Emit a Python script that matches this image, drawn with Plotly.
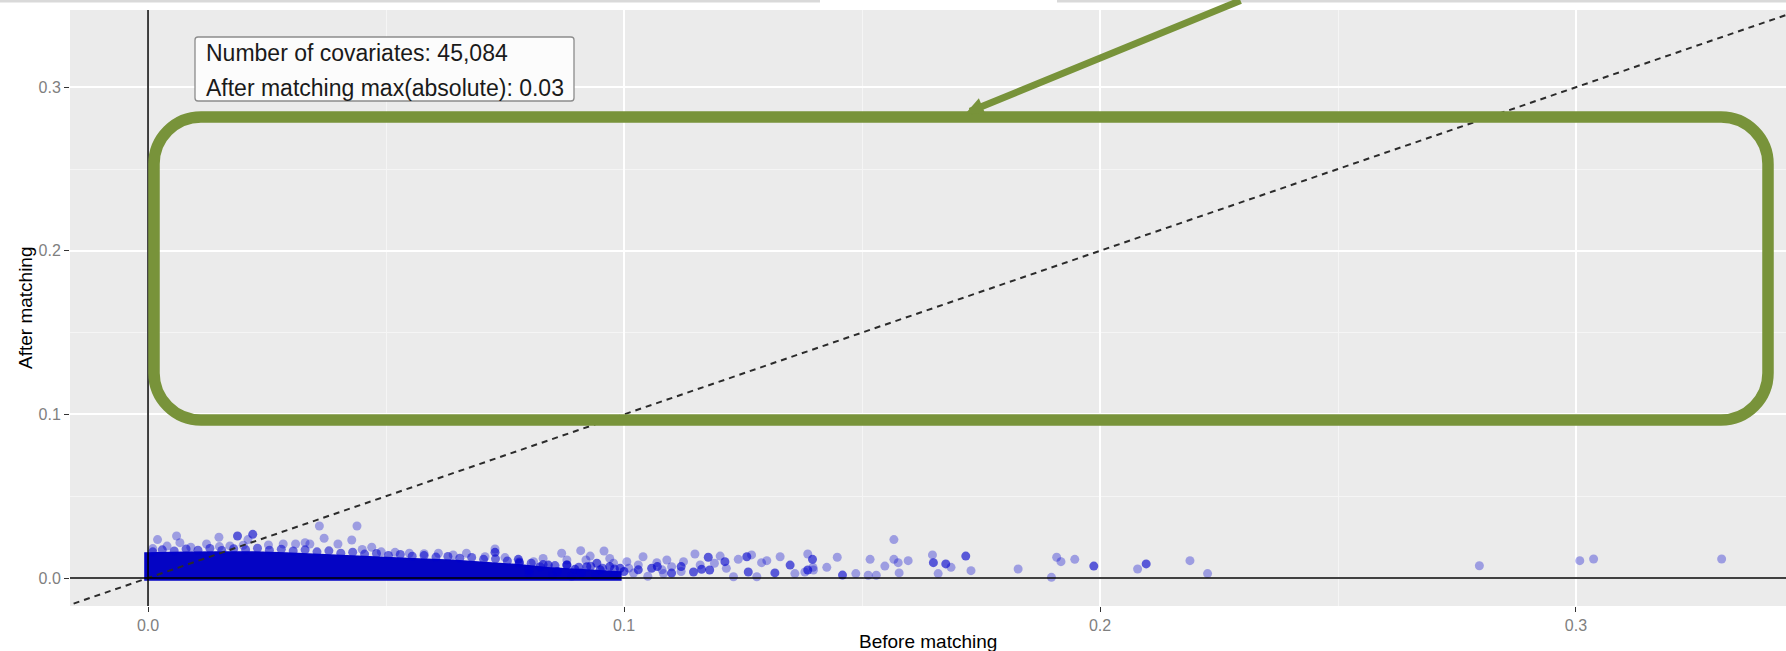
import plotly.graph_objects as go

# ---------------- data ----------------
# dense core of the covariate cloud: upper / lower envelope
core_x = [-0.0008, 0.0005, 0.008, 0.015, 0.022, 0.029, 0.036, 0.043, 0.050, 0.057,
          0.064, 0.071, 0.078, 0.084, 0.090, 0.096, 0.0995]
core_top = [0.0158, 0.0158, 0.0162, 0.0164, 0.0164, 0.0158, 0.0148, 0.0138, 0.0128, 0.0121,
            0.0113, 0.0100, 0.0085, 0.0068, 0.0058, 0.0050, 0.0042]
core_bottom = [-0.0016, -0.0016, -0.0016, -0.0016, -0.0016, -0.0016, -0.0016, -0.0016, -0.0016, -0.0016,
               -0.0016, -0.0016, -0.0016, -0.0016, -0.0016, -0.0016, -0.0016]

# points forming the ragged upper edge of the core
fringe_x = [0.001, 0.003, 0.0055, 0.008, 0.0105, 0.013, 0.0155, 0.018, 0.0205, 0.023,
            0.0255, 0.028, 0.0305, 0.033, 0.0355, 0.038, 0.0405, 0.043, 0.0455, 0.048,
            0.0505, 0.053, 0.0555, 0.058, 0.0605, 0.063, 0.0655, 0.068, 0.0705, 0.073,
            0.0755, 0.078, 0.0805, 0.083, 0.0855, 0.088, 0.0905, 0.093, 0.0955, 0.098]
fringe_y = [0.0160, 0.0172, 0.0165, 0.0178, 0.0170, 0.0181, 0.0168, 0.0179, 0.0173, 0.0182,
            0.0170, 0.0176, 0.0165, 0.0172, 0.0160, 0.0166, 0.0152, 0.0158, 0.0146, 0.0150,
            0.0138, 0.0144, 0.0133, 0.0137, 0.0128, 0.0132, 0.0121, 0.0126, 0.0114, 0.0117,
            0.0104, 0.0098, 0.0090, 0.0082, 0.0076, 0.0080, 0.0066, 0.0072, 0.0060, 0.0055]

# single (light) points
light_x = [0.001, 0.004, 0.0067, 0.009, 0.0123, 0.015, 0.0172, 0.020, 0.021, 0.0253,
           0.0284, 0.031, 0.033, 0.034, 0.037, 0.0399, 0.0428, 0.045, 0.047, 0.049,
           0.0519, 0.0549, 0.058, 0.061, 0.0641, 0.0669, 0.0708, 0.0729, 0.075, 0.081,
           0.0020, 0.0060, 0.0149, 0.036, 0.0439,
           0.0869, 0.088, 0.0909, 0.0929, 0.0958, 0.0978, 0.1006, 0.104, 0.1069, 0.1083,
           0.110, 0.1125, 0.1149, 0.1202, 0.1215, 0.123, 0.124, 0.1268, 0.1279, 0.1289,
           0.130, 0.1328, 0.1359, 0.138, 0.1386, 0.1398, 0.1397, 0.1426, 0.1448, 0.1487,
           0.1517, 0.1513, 0.153, 0.1548, 0.1567, 0.1567, 0.1576, 0.1578, 0.1597, 0.1648,
           0.166, 0.1687, 0.1729, 0.1828, 0.1898, 0.1909, 0.1918, 0.1947, 0.2079, 0.2189,
           0.2226, 0.2797, 0.3008, 0.3037, 0.3306,
           0.080, 0.085, 0.089, 0.094, 0.098, 0.102, 0.105, 0.108, 0.112, 0.116,
           0.119, 0.083, 0.092, 0.097, 0.101, 0.103, 0.109]
light_y = [0.0180, 0.0195, 0.0216, 0.0188, 0.0208, 0.0192, 0.0196, 0.0200, 0.0235, 0.0202,
           0.0208, 0.0208, 0.0216, 0.0208, 0.0243, 0.0208, 0.0232, 0.0175, 0.0188, 0.0160,
           0.0157, 0.0151, 0.0148, 0.0151, 0.0141, 0.0151, 0.0130, 0.0177, 0.0125, 0.0100,
           0.0235, 0.0257, 0.0249, 0.0318, 0.0318,
           0.0151, 0.0110, 0.0167, 0.0134, 0.0165, 0.0090, 0.0100, 0.0130, 0.0094, 0.0027,
           0.0069, 0.0100, 0.0147, 0.0134, 0.0059, 0.0008, 0.0114, 0.0141, 0.0008, 0.0094,
           0.0106, 0.0130, 0.0027, 0.0037, 0.0147, 0.0049, 0.0065, 0.0065, 0.0127, 0.0027,
           0.0114, 0.0017, 0.0017, 0.0073, 0.0235, 0.0114, 0.0094, 0.0031, 0.0106, 0.0141,
           0.0027, 0.0065, 0.0045, 0.0055, 0.0004, 0.0127, 0.0100, 0.0114, 0.0055, 0.0106,
           0.0027, 0.0075, 0.0106, 0.0116, 0.0116,
           0.0030, 0.0020, 0.0010, 0.0020, 0.0015, 0.0030, 0.0010, 0.0050, 0.0040, 0.0080,
           0.0090, 0.0120, 0.0110, 0.0120, 0.0060, 0.0080, 0.0110]

# overlapping (dark) points
dark_x = [0.0188, 0.0220, 0.0729, 0.0778, 0.078, 0.0824, 0.0841, 0.0943, 0.0922, 0.0897,
          0.0992, 0.1058, 0.1146, 0.1163, 0.1177, 0.118, 0.1212, 0.1258, 0.1261, 0.1317,
          0.1349, 0.1396, 0.1386, 0.1459, 0.165, 0.1676, 0.1718, 0.1987, 0.2097,
          0.080, 0.086, 0.088, 0.091, 0.095, 0.097, 0.100, 0.103, 0.107, 0.110, 0.112]
dark_y = [0.0257, 0.0267, 0.0157, 0.0114, 0.0090, 0.0069, 0.0079, 0.0090, 0.0069, 0.0053,
          0.0059, 0.0059, 0.0037, 0.0053, 0.0127, 0.0049, 0.0100, 0.0130, 0.0037, 0.0031,
          0.0079, 0.0114, 0.0049, 0.0018, 0.0094, 0.0086, 0.0134, 0.0073, 0.0086,
          0.0050, 0.0040, 0.0080, 0.0030, 0.0050, 0.0070, 0.0040, 0.0050, 0.0070, 0.0030, 0.0070]

diag_x = [-0.02, 0.36]
diag_y = [-0.02, 0.36]

x_range = [-0.01639, 0.34412]
y_range = [-0.01711, 0.34719]
x_ticks = [0.0, 0.1, 0.2, 0.3]
x_tick_labels = ["0.0", "0.1", "0.2", "0.3"]
y_ticks = [0.0, 0.1, 0.2, 0.3]
y_tick_labels = ["0.0", "0.1", "0.2", "0.3"]

label_lines = ["Number of covariates: 45,084", "After matching max(absolute): 0.03"]
x_title = "Before matching"
y_title = "After matching"

# ---------------- layout geometry (pixels) ----------------
W, H = 1786, 651
ML, MR, MT, MB = 70, 0, 10, 45
PW, PH = W - ML - MR, H - MT - MB
FONT = "Liberation Sans, Arial, Helvetica, sans-serif"
GREEN = "#78933A"


def px(xp):
    return (xp - ML) / PW


def py(yp):
    return (H - MB - yp) / PH


def rounded_path(x0, y0, x1, y1, r):
    # x0,y0 top-left ; x1,y1 bottom-right in pixels
    k = 0.5523 * r
    pts = []
    pts.append(f"M {px(x0 + r)},{py(y0)}")
    pts.append(f"L {px(x1 - r)},{py(y0)}")
    pts.append(f"C {px(x1 - r + k)},{py(y0)} {px(x1)},{py(y0 + r - k)} {px(x1)},{py(y0 + r)}")
    pts.append(f"L {px(x1)},{py(y1 - r)}")
    pts.append(f"C {px(x1)},{py(y1 - r + k)} {px(x1 - r + k)},{py(y1)} {px(x1 - r)},{py(y1)}")
    pts.append(f"L {px(x0 + r)},{py(y1)}")
    pts.append(f"C {px(x0 + r - k)},{py(y1)} {px(x0)},{py(y1 - r + k)} {px(x0)},{py(y1 - r)}")
    pts.append(f"L {px(x0)},{py(y0 + r)}")
    pts.append(f"C {px(x0)},{py(y0 + r - k)} {px(x0 + r - k)},{py(y0)} {px(x0 + r)},{py(y0)}")
    pts.append("Z")
    return " ".join(pts)


fig = go.Figure()

# core cloud
fig.add_trace(go.Scatter(
    x=core_x + core_x[::-1], y=core_top + core_bottom[::-1],
    fill="toself", fillcolor="rgb(4,4,196)", mode="lines",
    line=dict(width=0, color="rgb(4,4,196)"), hoverinfo="skip", showlegend=False))

fig.add_trace(go.Scatter(
    x=fringe_x, y=fringe_y, mode="markers",
    marker=dict(size=9, color="rgba(0,0,205,0.55)", line=dict(width=0)),
    showlegend=False))
fig.add_trace(go.Scatter(
    x=light_x, y=light_y, mode="markers",
    marker=dict(size=9, color="rgba(0,0,205,0.33)", line=dict(width=0)),
    showlegend=False))
fig.add_trace(go.Scatter(
    x=dark_x, y=dark_y, mode="markers",
    marker=dict(size=9, color="rgba(0,0,205,0.62)", line=dict(width=0)),
    showlegend=False))

# identity line
fig.add_trace(go.Scatter(
    x=diag_x, y=diag_y, mode="lines",
    line=dict(color="#2b2b2b", width=2, dash="6px,5px"), showlegend=False, hoverinfo="skip"))

# zero lines
fig.add_trace(go.Scatter(x=[x_range[0] - 0.01, x_range[1] + 0.01], y=[0, 0], mode="lines",
                         line=dict(color="black", width=1.5), showlegend=False, hoverinfo="skip"))
fig.add_trace(go.Scatter(x=[0, 0], y=[y_range[0] - 0.01, y_range[1] + 0.01], mode="lines",
                         line=dict(color="black", width=1.5), showlegend=False, hoverinfo="skip"))

shapes = []
# faint strip along the very top of the image
shapes.append(dict(type="rect", xref="paper", yref="paper", x0=px(0), x1=px(820), y0=py(2.5), y1=py(0),
                   fillcolor="#D9D9D9", line=dict(width=0), layer="above"))
shapes.append(dict(type="rect", xref="paper", yref="paper", x0=px(1057), x1=px(1786), y0=py(2.5), y1=py(0),
                   fillcolor="#D9D9D9", line=dict(width=0), layer="above"))
# label box
shapes.append(dict(type="path", xref="paper", yref="paper", path=rounded_path(195, 37, 574, 101, 3),
                   fillcolor="#FCFCFC", line=dict(color="#8C8C8C", width=1.3), layer="above"))
# green highlight rectangle
shapes.append(dict(type="path", xref="paper", yref="paper", path=rounded_path(154, 117, 1768, 420, 47),
                   fillcolor="rgba(0,0,0,0)", line=dict(color=GREEN, width=11.5), layer="above"))

annotations = []
annotations.append(dict(xref="paper", yref="paper", x=px(204), y=py(53), text=label_lines[0],
                        showarrow=False, xanchor="left", yanchor="middle",
                        font=dict(family=FONT, size=23, color="#1a1a1a")))
annotations.append(dict(xref="paper", yref="paper", x=px(204), y=py(88), text=label_lines[1],
                        showarrow=False, xanchor="left", yanchor="middle",
                        font=dict(family=FONT, size=23, color="#1a1a1a")))
# arrow
annotations.append(dict(xref="paper", yref="paper", x=px(966), y=py(113), text="",
                        showarrow=True, ax=276, ay=-120, axref="pixel", ayref="pixel",
                        arrowhead=2, arrowsize=0.5, arrowwidth=7, arrowcolor=GREEN, standoff=0))
# axis titles
annotations.append(dict(xref="paper", yref="paper", x=0.5, y=py(641), text=x_title, showarrow=False,
                        xanchor="center", yanchor="middle", font=dict(family=FONT, size=19, color="black")))
annotations.append(dict(xref="paper", yref="paper", x=px(25), y=py(308), text=y_title, showarrow=False,
                        textangle=-90, xanchor="center", yanchor="middle",
                        font=dict(family=FONT, size=19, color="black")))

fig.update_layout(
    width=W, height=H,
    margin=dict(l=ML, r=MR, t=MT, b=MB, pad=0),
    paper_bgcolor="white", plot_bgcolor="#EBEBEB",
    showlegend=False,
    shapes=shapes, annotations=annotations,
    font=dict(family=FONT),
)
axis_common = dict(
    showgrid=True, gridcolor="white", gridwidth=1.6,
    zeroline=False, showline=False,
    ticks="outside", ticklen=5, tickwidth=1, tickcolor="#333333",
    tickfont=dict(family=FONT, size=16, color="#7F7F7F"),
    minor=dict(dtick=0.05, tick0=0, showgrid=True, gridcolor="#F5F5F5", gridwidth=0.8, ticks=""),
)
fig.update_xaxes(range=x_range, tickvals=x_ticks, ticktext=x_tick_labels, **axis_common)
fig.update_yaxes(range=y_range, tickvals=y_ticks, ticktext=y_tick_labels, **axis_common)

fig.write_html("out.html")
